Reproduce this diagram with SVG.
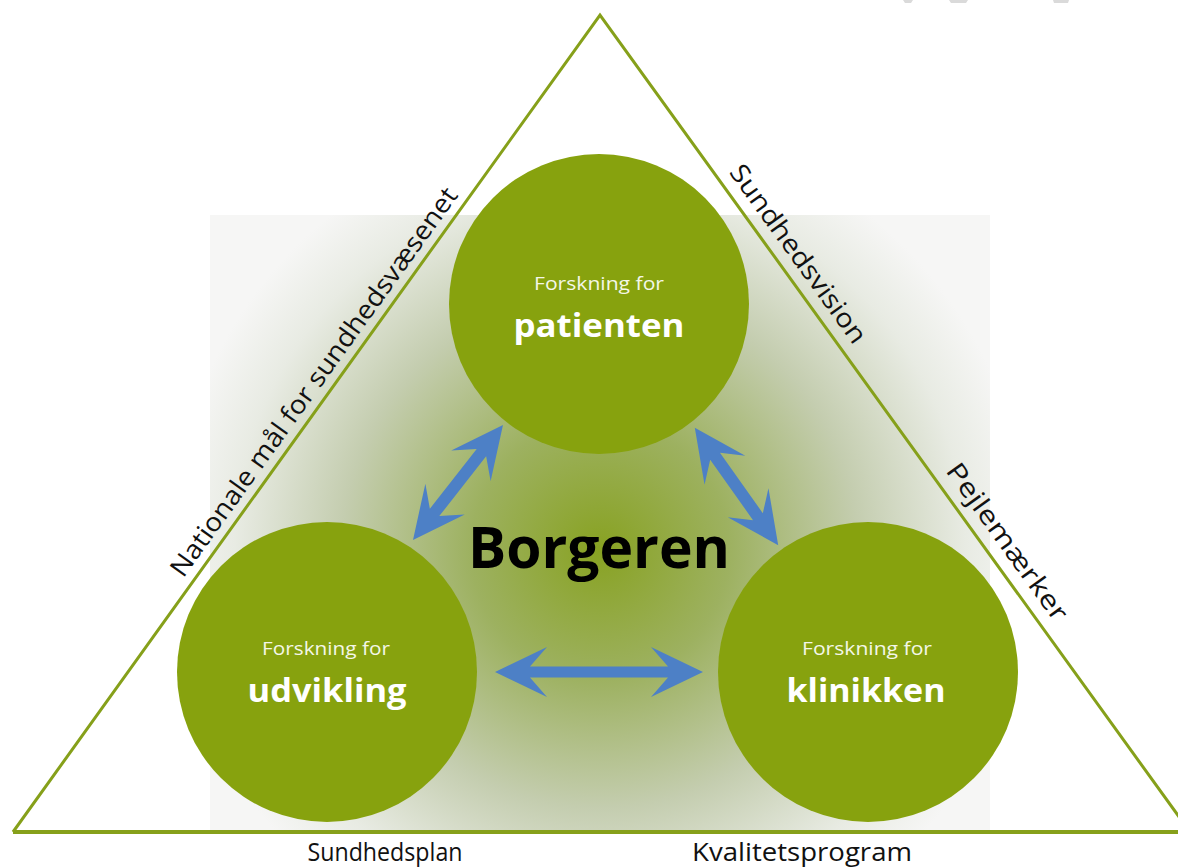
<svg xmlns="http://www.w3.org/2000/svg" width="1178" height="867" viewBox="0 0 1178 867">
<style>
.circle{fill:#87a20e}
.edge{fill:none;stroke:#86a01a;stroke-width:3;stroke-linejoin:miter}
.arrow{fill:#4d80c6}
.small{font-family:"Open Sans","Noto Sans",sans-serif;font-size:19px;fill:#f4f7e8;text-anchor:middle}
.big{font-family:"Open Sans","Noto Sans",sans-serif;font-size:32px;font-weight:bold;fill:#ffffff;text-anchor:middle}
.side{font-family:"Open Sans","Noto Sans",sans-serif;font-size:26px;fill:#111111;text-anchor:middle}
.center{font-family:"Open Sans","Noto Sans",sans-serif;font-size:58px;font-weight:bold;fill:#000000;text-anchor:middle}
.mark{fill:#dadada}
</style>
<defs>
<radialGradient id="glow" gradientUnits="userSpaceOnUse" cx="600" cy="550" r="430">
<stop offset="0" stop-color="#88a222"/>
<stop offset="0.3" stop-color="#9db160"/>
<stop offset="0.6" stop-color="#c4cdaf"/>
<stop offset="0.85" stop-color="#e8ebe3"/>
<stop offset="1" stop-color="#f6f6f5"/>
</radialGradient>
</defs>
<rect width="1178" height="867" fill="#ffffff"/>
<polygon class="mark" points="903,0 913,0 911,3 905,3"/>
<polygon class="mark" points="949,0 968,0 966,3 951,3"/>
<polygon class="mark" points="1053,0 1069,0 1068,3 1054,3"/>
<rect id="background" x="210" y="215" width="780" height="617" fill="url(#glow)"/>
<g id="frame">
<path class="edge" d="M13,832 L600,15 L1190,832"/>
<line x1="13" y1="832" x2="1178" y2="832" stroke="#86a01a" stroke-width="4"/>
</g>
<g id="labels">
<text class="side" transform="translate(321,387) rotate(-54.3)" textLength="472" lengthAdjust="spacingAndGlyphs">Nationale mål for sundhedsvæsenet</text>
<text class="side" transform="translate(791,259) rotate(54.2)" textLength="214" lengthAdjust="spacingAndGlyphs">Sundhedsvision</text>
<text class="side" transform="translate(1000,547) rotate(54.2)" textLength="188" lengthAdjust="spacingAndGlyphs">Pejlemærker</text>
<text class="side" x="385" y="861" textLength="155" lengthAdjust="spacingAndGlyphs">Sundhedsplan</text>
<text class="side" x="802" y="861" textLength="220" lengthAdjust="spacingAndGlyphs">Kvalitetsprogram</text>
</g>
<g id="node-patienten">
<circle class="circle" cx="599" cy="304" r="150"/>
<text class="small" x="599" y="290" textLength="130" lengthAdjust="spacingAndGlyphs">Forskning for</text>
<text class="big" x="599" y="337" textLength="171" lengthAdjust="spacingAndGlyphs">patienten</text>
</g>
<g id="node-udvikling">
<circle class="circle" cx="327" cy="672" r="150"/>
<text class="small" x="326" y="655" textLength="128" lengthAdjust="spacingAndGlyphs">Forskning for</text>
<text class="big" x="327" y="702" textLength="159" lengthAdjust="spacingAndGlyphs">udvikling</text>
</g>
<g id="node-klinikken">
<circle class="circle" cx="868" cy="672" r="150"/>
<text class="small" x="867" y="655" textLength="130" lengthAdjust="spacingAndGlyphs">Forskning for</text>
<text class="big" x="866" y="702" textLength="159" lengthAdjust="spacingAndGlyphs">klinikken</text>
</g>
<g id="node-borgeren">
<text class="center" x="599" y="568" textLength="262" lengthAdjust="spacingAndGlyphs">Borgeren</text>
</g>
<g id="connectors">
<path class="arrow" transform="translate(458,482.5) rotate(-51.95)" d="M-73,0 L-21,-25 L-38,-6 L38,-6 L21,-25 L73,0 L21,25 L38,6 L-38,6 L-21,25 Z"/>
<path class="arrow" transform="translate(736.5,486.5) rotate(54.6)" d="M-72,0 L-20,-25 L-37,-6 L37,-6 L20,-25 L72,0 L20,25 L37,6 L-37,6 L-20,25 Z"/>
<path class="arrow" transform="translate(599,672)" d="M-104,0 L-52,-25 L-69,-5.5 L69,-5.5 L52,-25 L104,0 L52,25 L69,5.5 L-69,5.5 L-52,25 Z"/>
</g>
</svg>
